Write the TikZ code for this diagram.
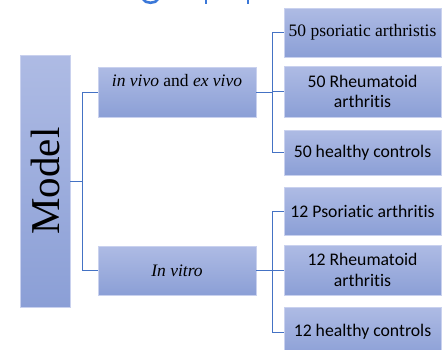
\documentclass[tikz,border=0pt]{standalone}
\usepackage{fontspec}
\setmainfont{Liberation Serif}
\newfontfamily\calfont[Ligatures=NoCommon]{Carlito}
\definecolor{boxtop}{HTML}{AEBBE4}
\definecolor{boxbot}{HTML}{8B9FD6}
\definecolor{boxedge}{HTML}{C9D1EE}
\definecolor{linkc}{HTML}{4472C4}
\definecolor{titleblue}{HTML}{3B78D8}
\tikzset{
  box/.style={draw=boxedge, line width=0.7pt, top color=boxtop, bottom color=boxbot, inner sep=0pt, align=center},
  link/.style={draw=linkc, line width=0.8pt},
  serif14/.style={font=\fontsize{17.5}{20}\selectfont},
  sans14/.style={font=\calfont\fontsize{17.7}{20.5}\selectfont, align=center},
}
\begin{document}
\begin{tikzpicture}[x=1pt,y=-1pt]
\useasboundingbox (0,0) rectangle (443,349);
\clip (0,0) rectangle (443,349);
% title fragments
\draw[titleblue, line width=2.6pt] (143,-1) .. controls (145,4) and (156,4) .. (158,-1);
\draw[titleblue, line width=2.4pt] (206,-2) -- (206,3.5);
\draw[titleblue, line width=2.4pt] (248,-2) -- (248,3.5);
% boxes
\node[box, minimum width=50pt, minimum height=252pt] (model) at (45,181) {};
\node[rotate=90, font=\fontsize{41}{45}\selectfont] (modelt) at (model.center) {Model};
\node[box, minimum width=158pt, minimum height=50pt] (vivo) at (177,92) {};
\node[serif14, anchor=north] (vivot) at ([yshift=-4pt]vivo.north) {\textit{in vivo} and \textit{ex vivo}};
\node[box, minimum width=158pt, minimum height=49pt, serif14] (vitro) at (177,270.5) {\textit{In vitro}};
\node[box, minimum width=157pt, minimum height=49pt, serif14] (c1) at (362.5,32.5) {50 psoriatic arthristis};
\node[box, minimum width=157pt, minimum height=51pt, sans14] (c2) at (362.5,91.5) {50 Rheumatoid\\arthritis};
\node[box, minimum width=157pt, minimum height=45pt, sans14] (c3) at (362.5,152.5) {50 healthy controls};
\node[box, minimum width=157pt, minimum height=48pt, sans14] (c4) at (362.5,211) {12 Psoriatic arthritis};
\node[box, minimum width=157pt, minimum height=50pt, sans14] (c5) at (362.5,270) {12 Rheumatoid\\arthritis};
\node[box, minimum width=157pt, minimum height=50pt, sans14] (c6) at (362.5,332) {12 healthy controls};
% connectors
\coordinate (j0) at ([xshift=12pt]model.east);
\draw[link] (model.east) -- (j0);
\draw[link] (j0) |- (vivo.west);
\draw[link] (j0) |- (vitro.west);
\coordinate (j1) at ([xshift=16pt]vivo.east);
\draw[link] (vivo.east) -- (j1);
\draw[link] (j1) |- (c1.west);
\draw[link] (j1) |- (c2.west);
\draw[link] (j1) |- (c3.west);
\coordinate (j2) at ([xshift=16pt]vitro.east);
\draw[link] (vitro.east) -- (j2);
\draw[link] (j2) |- (c4.west);
\draw[link] (j2) |- (c5.west);
\draw[link] (j2) |- (c6.west);
\end{tikzpicture}
\end{document}
